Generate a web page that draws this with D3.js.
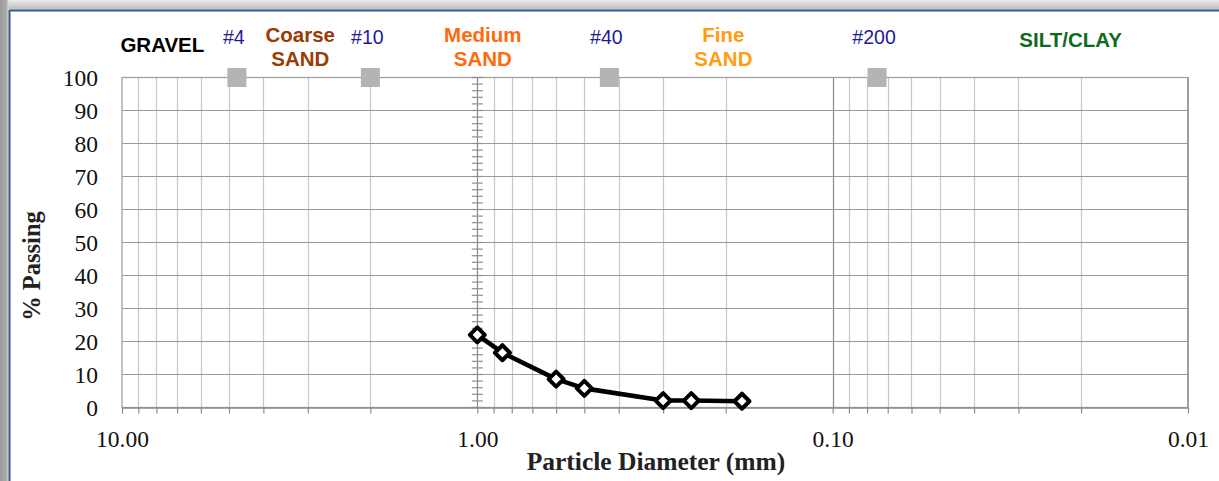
<!DOCTYPE html>
<html>
<head>
<meta charset="utf-8">
<script src="https://cdn.jsdelivr.net/npm/d3@7"></script>
<style>
  body { margin: 0; background: #fff; }
  svg { display: block; }
</style>
</head>
<body>
<div id="chart"></div>
<script>
// gradation test results (sieve opening in mm, % passing)
const diameters = [1.0, 0.85, 0.6, 0.5, 0.3, 0.25, 0.18];
const passing = [22.0, 16.6, 8.6, 5.8, 2.1, 2.1, 1.9];

// standard sieves shown along the top
const sieveNames = ["#4", "#10", "#40", "#200"];
const sieveSizes = [4.75, 2.0, 0.425, 0.075];

// soil class labels, placed at a diameter inside their band
const zoneNames = [["GRAVEL"], ["Coarse", "SAND"], ["Medium", "SAND"], ["Fine", "SAND"], ["SILT/CLAY"]];
const zoneAt = [7.7, 3.15, 0.965, 0.203, 0.0214];
const zoneColors = ["#000000", "#9c3a06", "#ff6a0d", "#ff9c0f", "#0c6b1c"];

const xTickLabels = [10, 1, 0.1, 0.01];
const yTickLabels = [0, 10, 20, 30, 40, 50, 60, 70, 80, 90, 100];

const W = 1219, H = 481;
const svg = d3.select("#chart").append("svg").attr("width", W).attr("height", H);

// frame with shadow strips
const defs = svg.append("defs");
const gTop = defs.append("linearGradient").attr("id", "gtop").attr("x1", 0).attr("y1", 0).attr("x2", 0).attr("y2", 1);
gTop.append("stop").attr("offset", "0%").attr("stop-color", "#ececec");
gTop.append("stop").attr("offset", "100%").attr("stop-color", "#bcbcbc");
const gLeft = defs.append("linearGradient").attr("id", "gleft").attr("x1", 0).attr("y1", 0).attr("x2", 1).attr("y2", 0);
gLeft.append("stop").attr("offset", "0%").attr("stop-color", "#9c9c9c");
gLeft.append("stop").attr("offset", "70%").attr("stop-color", "#a8a8a8");
gLeft.append("stop").attr("offset", "100%").attr("stop-color", "#d4d4d4");

svg.append("rect").attr("x", 0).attr("y", 0).attr("width", W).attr("height", 9.5).attr("fill", "url(#gtop)");
svg.append("rect").attr("x", 0).attr("y", 0).attr("width", 8.5).attr("height", H).attr("fill", "url(#gleft)");
svg.append("line").attr("x1", 9.5).attr("x2", W).attr("y1", 10.5).attr("y2", 10.5)
    .attr("stroke", "#35598a").attr("stroke-width", 2);
svg.append("line").attr("x1", 9.5).attr("x2", 9.5).attr("y1", 10).attr("y2", H)
    .attr("stroke", "#35598a").attr("stroke-width", 2);

const plotLeft = 122, plotRight = 1188, plotTop = 77.5, plotBottom = 407.5;

const x = d3.scaleLog().domain([10, 0.01]).range([plotLeft, plotRight]);
const y = d3.scaleLinear().domain([0, 100]).range([plotBottom, plotTop]);

const isMajor = d => Math.abs(Math.log10(d) - Math.round(Math.log10(d))) < 1e-9;
const xTicks = x.ticks();

// vertical grid
const grid = svg.append("g");
grid.selectAll("line.vg")
    .data(xTicks.filter(d => d < 10 && d > 0.01))
    .enter().append("line")
    .attr("class", "vg")
    .attr("x1", d => Math.round(x(d)) + 0.5).attr("x2", d => Math.round(x(d)) + 0.5)
    .attr("y1", plotTop).attr("y2", plotBottom)
    .attr("stroke", d => isMajor(d) ? "#8a8a8a" : "#c8c8c8")
    .attr("stroke-width", 1.2);

// horizontal grid
grid.selectAll("line.hg")
    .data(yTickLabels.filter(v => v > 0 && v < 100))
    .enter().append("line")
    .attr("class", "hg")
    .attr("x1", plotLeft).attr("x2", plotRight)
    .attr("y1", d => y(d)).attr("y2", d => y(d))
    .attr("stroke", "#9a9a9a").attr("stroke-width", 1.2);

// plot border
svg.append("rect").attr("x", plotLeft).attr("y", plotTop)
    .attr("width", plotRight - plotLeft).attr("height", plotBottom - plotTop)
    .attr("fill", "none").attr("stroke", "#a2a2a2").attr("stroke-width", 1.3);
svg.append("line").attr("x1", plotRight).attr("x2", plotRight).attr("y1", plotTop).attr("y2", plotBottom)
    .attr("stroke", "#8c8c8c").attr("stroke-width", 1.3);

// minor y ticks crossing at 1.00 mm
svg.append("g").selectAll("line")
    .data(d3.range(0, 101, 2))
    .enter().append("line")
    .attr("x1", x(1) - 5.5).attr("x2", x(1) + 5.5)
    .attr("y1", d => y(d)).attr("y2", d => y(d))
    .attr("stroke", "#8e8e8e").attr("stroke-width", 1.2);

// bottom axis
const xAxis = svg.append("g")
    .attr("transform", `translate(0,${plotBottom})`)
    .call(d3.axisBottom(x).tickValues(xTicks).tickSize(6).tickSizeOuter(0)
        .tickFormat(d => xTickLabels.some(t => Math.abs(t - d) < 1e-9) ? d3.format(".2f")(d) : ""));
xAxis.select(".domain").attr("stroke", "#8c8c8c").attr("stroke-width", 1.3);
xAxis.selectAll(".tick line").attr("stroke", "#8c8c8c").attr("stroke-width", 1.2);
xAxis.selectAll(".tick text")
    .attr("y", 39).attr("dy", 0)
    .attr("fill", "#111")
    .style("font-family", "'Liberation Serif', 'Times New Roman', serif")
    .style("font-size", "23.5px");

// left axis
const yAxis = svg.append("g")
    .attr("transform", `translate(${plotLeft},0)`)
    .call(d3.axisLeft(y).tickValues(yTickLabels).tickSize(0).tickPadding(24));
yAxis.select(".domain").remove();
yAxis.selectAll(".tick text")
    .attr("dy", "0.34em")
    .attr("fill", "#111")
    .style("font-family", "'Liberation Serif', 'Times New Roman', serif")
    .style("font-size", "23.5px");

// axis titles
svg.append("text")
    .attr("transform", "translate(40,266) rotate(-90)")
    .attr("text-anchor", "middle")
    .style("font-family", "'Liberation Serif', 'Times New Roman', serif")
    .style("font-size", "24.5px").style("font-weight", "bold")
    .attr("fill", "#222")
    .text("% Passing");

svg.append("text")
    .attr("x", 656).attr("y", 470)
    .attr("text-anchor", "middle")
    .style("font-family", "'Liberation Serif', 'Times New Roman', serif")
    .style("font-size", "25.5px").style("font-weight", "bold")
    .attr("fill", "#222")
    .text("Particle Diameter (mm)");

// sieve markers on the 100% line
svg.append("g").selectAll("rect")
    .data(sieveSizes)
    .enter().append("rect")
    .attr("x", d => x(d) - 9.5).attr("y", y(100) - 9.5)
    .attr("width", 19).attr("height", 19)
    .attr("fill", "#b4b4b4");

svg.append("g").selectAll("text")
    .data(sieveNames)
    .enter().append("text")
    .attr("x", (d, i) => x(sieveSizes[i]) - 3)
    .attr("y", 44)
    .attr("text-anchor", "middle")
    .attr("fill", "#1c1c94")
    .style("font-family", "'Liberation Sans', Arial, sans-serif")
    .style("font-size", "19.5px")
    .text(d => d);

// soil class labels
const zones = svg.append("g").selectAll("text")
    .data(zoneNames)
    .enter().append("text")
    .attr("x", (d, i) => x(zoneAt[i]))
    .attr("y", d => d.length === 1 ? 52 : 42)
    .attr("text-anchor", "middle")
    .attr("fill", (d, i) => zoneColors[i])
    .style("font-family", "'Liberation Sans', Arial, sans-serif")
    .style("font-size", "20.5px").style("font-weight", "bold");
zones.each(function(d, i) {
    const t = d3.select(this);
    if (i === 4) t.attr("y", 46.5);
    d.forEach((line, k) => {
        t.append("tspan").attr("x", x(zoneAt[i])).attr("dy", k === 0 ? 0 : 23.5).text(line);
    });
});

// gradation curve
const pts = diameters.map((d, i) => [x(d), y(passing[i])]);
svg.append("path")
    .attr("d", d3.line()(pts))
    .attr("fill", "none").attr("stroke", "#000").attr("stroke-width", 4.6)
    .attr("stroke-linejoin", "round");

svg.append("g").selectAll("path")
    .data(pts)
    .enter().append("path")
    .attr("transform", d => `translate(${d[0]},${d[1]})`)
    .attr("d", "M0,-7.5L7.5,0L0,7.5L-7.5,0Z")
    .attr("fill", "#fff").attr("stroke", "#000").attr("stroke-width", 4)
    .attr("stroke-linejoin", "round");
</script>
</body>
</html>
